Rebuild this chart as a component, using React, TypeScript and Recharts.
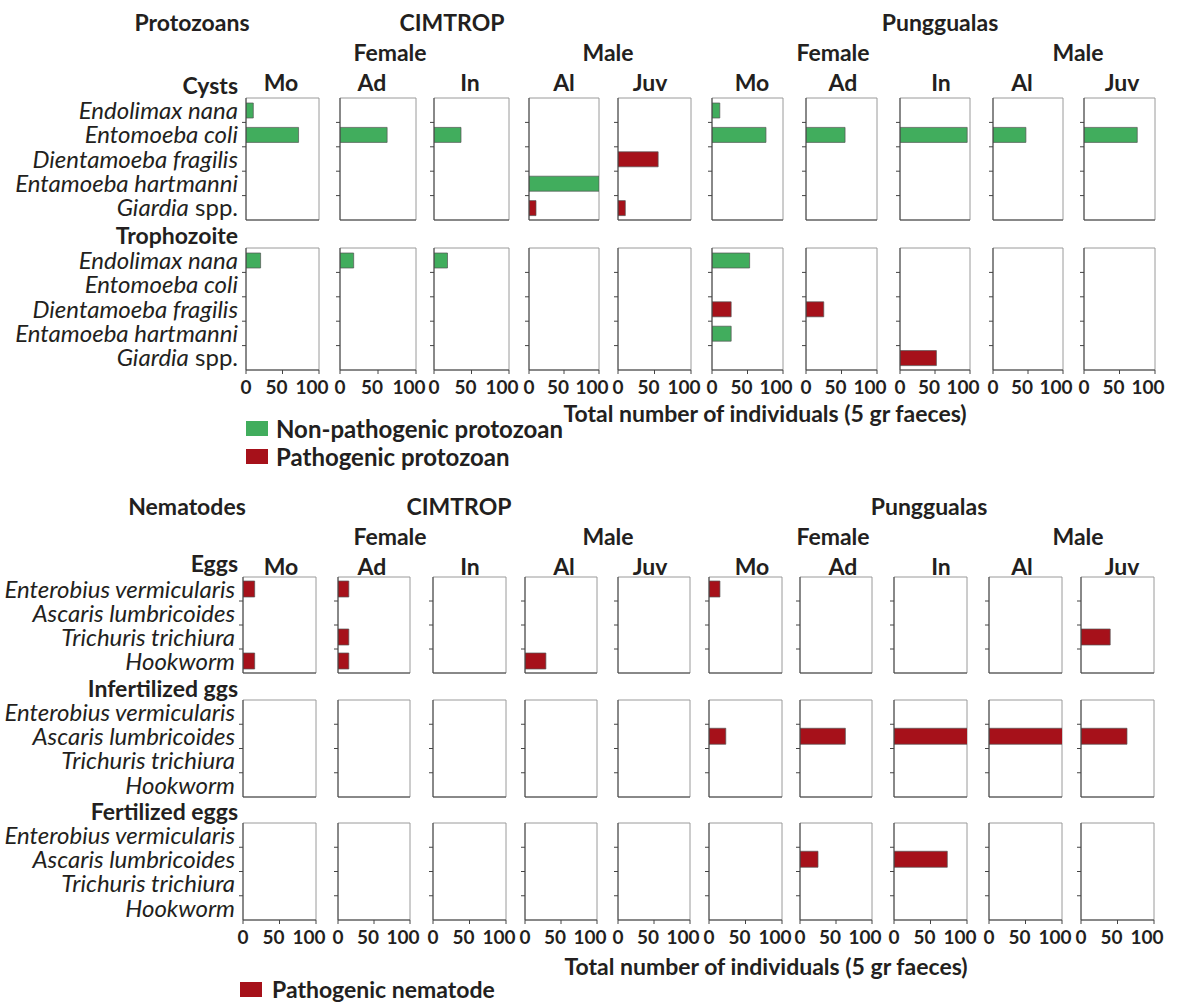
import React from 'react';
import { BarChart, Bar, XAxis, YAxis, CartesianGrid, Cell } from 'recharts';

const GREEN = '#41ad5d';
const RED = '#a6111a';
const INK = '#231f20';
const FONT = 'Lato, "Open Sans", sans-serif';

const sites = ['CIMTROP', 'Punggualas'];
const sexes = ['Female', 'Male'];
const groups = ['Mo', 'Ad', 'In', 'Al', 'Juv', 'Mo', 'Ad', 'In', 'Al', 'Juv'];
const xTicks = [0, 50, 100];

const protozoa = ['Endolimax nana', 'Entomoeba coli', 'Dientamoeba fragilis', 'Entamoeba hartmanni', 'Giardia spp.'];
const protozoaPathogenic = [false, false, true, false, true];
const nematodes = ['Enterobius vermicularis', 'Ascaris lumbricoides', 'Trichuris trichiura', 'Hookworm'];

// one row per column: CIMTROP Mo, Ad, In, Al, Juv, Punggualas Mo, Ad, In, Al, Juv
const cysts = [
  [10, 72, 0, 0, 0],
  [0, 62, 0, 0, 0],
  [0, 36, 0, 0, 0],
  [0, 0, 0, 100, 10],
  [0, 0, 55, 0, 10],
  [11, 76, 0, 0, 0],
  [0, 55, 0, 0, 0],
  [0, 96, 0, 0, 0],
  [0, 47, 0, 0, 0],
  [0, 75, 0, 0, 0],
];
const trophozoites = [
  [20, 0, 0, 0, 0],
  [18, 0, 0, 0, 0],
  [18, 0, 0, 0, 0],
  [0, 0, 0, 0, 0],
  [0, 0, 0, 0, 0],
  [53, 0, 27, 27, 0],
  [0, 0, 25, 0, 0],
  [0, 0, 0, 0, 52],
  [0, 0, 0, 0, 0],
  [0, 0, 0, 0, 0],
];
const eggs = [
  [16, 0, 0, 16],
  [15, 0, 15, 15],
  [0, 0, 0, 0],
  [0, 0, 0, 29],
  [0, 0, 0, 0],
  [15, 0, 0, 0],
  [0, 0, 0, 0],
  [0, 0, 0, 0],
  [0, 0, 0, 0],
  [0, 0, 40, 0],
];
const infertilizedEggs = [
  [0, 0, 0, 0],
  [0, 0, 0, 0],
  [0, 0, 0, 0],
  [0, 0, 0, 0],
  [0, 0, 0, 0],
  [0, 23, 0, 0],
  [0, 63, 0, 0],
  [0, 103, 0, 0],
  [0, 103, 0, 0],
  [0, 63, 0, 0],
];
const fertilizedEggs = [
  [0, 0, 0, 0],
  [0, 0, 0, 0],
  [0, 0, 0, 0],
  [0, 0, 0, 0],
  [0, 0, 0, 0],
  [0, 0, 0, 0],
  [0, 25, 0, 0],
  [0, 73, 0, 0],
  [0, 0, 0, 0],
  [0, 0, 0, 0],
];

// panel geometry (plot area, page pixels)
const topLefts = [246, 340, 434, 529, 618, 712, 806, 900, 993, 1084];
const topRights = [319, 416, 509, 599, 691, 783, 877, 970, 1063, 1155];
const botLefts = [243, 338, 433, 525, 618, 709, 800, 894, 989, 1081];
const botRights = [316, 410, 506, 597, 690, 782, 872, 967, 1062, 1154];

const XTick = (props: any) => {
  const { x, y, payload } = props;
  const shift = payload.value === 100 ? -7 : payload.value === 50 ? -6 : 0;
  return (
    <text x={x + shift} y={y} dy={18} textAnchor="middle" fill={INK} fontSize={19} fontWeight={700} fontFamily={FONT}>
      {payload.value}
    </text>
  );
};

const YTick = (props: any) => {
  const { x, y, payload, index, band, n, showLabel } = props;
  const name: string = payload.value;
  const isSpp = name.endsWith(' spp.');
  return (
    <g>
      {index < n - 1 && <line x1={x - 4} x2={x} y1={y + band / 2} y2={y + band / 2} stroke="#444" />}
      {showLabel && (
        <text x={x - 8} y={y} dy="0.36em" textAnchor="end" fill={INK} fontSize={24} fontFamily={FONT}>
          {isSpp ? (
            <>
              <tspan fontStyle="italic">{name.replace(' spp.', '')}</tspan>
              <tspan> spp.</tspan>
            </>
          ) : (
            <tspan fontStyle="italic">{name}</tspan>
          )}
        </text>
      )}
    </g>
  );
};

type PanelProps = {
  names: string[];
  values: number[];
  colors: string[];
  left: number;
  right: number;
  top: number;
  bottom: number;
  showLabels: boolean;
  showTickLabels: boolean;
  barSize: number;
};

const Panel = ({ names, values, colors, left, right, top, bottom, showLabels, showTickLabels, barSize }: PanelProps) => {
  const axisW = showLabels ? left : 8;
  const plotW = right - left;
  const plotH = bottom - top;
  const xAxisH = showTickLabels ? 36 : 6;
  const mTop = 2;
  const mRight = 18;
  const data = names.map((name, i) => ({ name, value: values[i] }));
  const band = plotH / names.length;
  return (
    <div style={{ position: 'absolute', left: left - axisW, top: top - mTop }}>
      <BarChart
        width={axisW + plotW + mRight}
        height={mTop + plotH + xAxisH}
        data={data}
        layout="vertical"
        margin={{ top: mTop, right: mRight, bottom: 0, left: 0 }}
      >
        <CartesianGrid
          stroke="#9a9a9a"
          horizontalPoints={[mTop, mTop + plotH]}
          verticalPoints={[axisW, axisW + plotW]}
        />
        <XAxis
          type="number"
          domain={[0, 100]}
          ticks={xTicks}
          interval={0}
          allowDataOverflow
          height={xAxisH}
          tickSize={4}
          tickMargin={2}
          stroke="#444"
          tick={showTickLabels ? <XTick /> : false}
        />
        <YAxis
          type="category"
          dataKey="name"
          width={axisW}
          interval={0}
          tickLine={false}
          tickSize={0}
          tickMargin={0}
          stroke="#444"
          tick={<YTick band={band} n={names.length} showLabel={showLabels} />}
        />
        <Bar dataKey="value" barSize={barSize} stroke="#555" strokeWidth={0.7} isAnimationActive={false}>
          {data.map((d, i) => (
            <Cell key={d.name} fill={colors[i]} />
          ))}
        </Bar>
      </BarChart>
    </div>
  );
};

const Text = ({ x, y, children, anchor = 'middle', weight = 700, size = 23, italic = false }: any) => (
  <div
    style={{
      position: 'absolute',
      left: x,
      top: y,
      transform: `translate(${anchor === 'end' ? '-100%' : anchor === 'start' ? '0' : '-50%'}, -50%)`,
      whiteSpace: 'nowrap',
      fontFamily: FONT,
      fontWeight: weight,
      fontStyle: italic ? 'italic' : 'normal',
      fontSize: size,
      lineHeight: 1,
      color: INK,
    }}
  >
    {children}
  </div>
);

const Swatch = ({ x, y, color }: any) => (
  <div style={{ position: 'absolute', left: x, top: y, width: 22, height: 15, background: color }} />
);

const Headers = ({ y0, title, siteX, femaleX, maleX, groupX }: any) => (
  <>
    <Text x={title.x} y={y0}>{title.text}</Text>
    <Text x={siteX[0]} y={y0}>{sites[0]}</Text>
    <Text x={siteX[1]} y={y0}>{sites[1]}</Text>
    <Text x={femaleX[0]} y={y0 + 30}>{sexes[0]}</Text>
    <Text x={maleX[0]} y={y0 + 30}>{sexes[1]}</Text>
    <Text x={femaleX[1]} y={y0 + 30}>{sexes[0]}</Text>
    <Text x={maleX[1]} y={y0 + 30}>{sexes[1]}</Text>
    {groups.map((g, i) => (
      <Text key={i} x={groupX[i]} y={y0 + 60}>{g}</Text>
    ))}
  </>
);

const groupCenters = [281, 372, 470, 564, 650, 752, 843, 941, 1022, 1122];

export default function App() {
  const protoColors = protozoaPathogenic.map((p) => (p ? RED : GREEN));
  const nemaColors = nematodes.map(() => RED);
  return (
    <div style={{ position: 'absolute', left: 0, top: 0, width: 1180, height: 1003, background: '#fff', overflow: 'hidden' }}>
      <Headers
        y0={22}
        title={{ x: 192, text: 'Protozoans' }}
        siteX={[452, 940]}
        femaleX={[390, 833]}
        maleX={[608, 1078]}
        groupX={groupCenters}
      />
      <Text x={238} y={85} anchor="end">Cysts</Text>
      <Text x={238} y={235} anchor="end">Trophozoite</Text>
      {cysts.map((vals, i) => (
        <Panel key={`c${i}`} names={protozoa} values={vals} colors={protoColors} left={topLefts[i]} right={topRights[i]}
          top={98} bottom={220} showLabels={i === 0} showTickLabels={false} barSize={15} />
      ))}
      {trophozoites.map((vals, i) => (
        <Panel key={`t${i}`} names={protozoa} values={vals} colors={protoColors} left={topLefts[i]} right={topRights[i]}
          top={248} bottom={370} showLabels={i === 0} showTickLabels barSize={15} />
      ))}
      <Text x={765} y={413}>Total number of individuals (5 gr faeces)</Text>
      <Swatch x={246} y={421} color={GREEN} />
      <Text x={276} y={429} anchor="start" size={24}>Non-pathogenic protozoan</Text>
      <Swatch x={246} y={449} color={RED} />
      <Text x={276} y={457} anchor="start" size={24}>Pathogenic protozoan</Text>

      <Headers
        y0={506}
        title={{ x: 187, text: 'Nematodes' }}
        siteX={[459, 929]}
        femaleX={[390, 833]}
        maleX={[608, 1078]}
        groupX={groupCenters}
      />
      <Text x={238} y={563} anchor="end">Eggs</Text>
      <Text x={238} y={688} anchor="end">Infertilized ggs</Text>
      <Text x={238} y={811} anchor="end">Fertilized eggs</Text>
      {eggs.map((vals, i) => (
        <Panel key={`e${i}`} names={nematodes} values={vals} colors={nemaColors} left={botLefts[i]} right={botRights[i]}
          top={577} bottom={673} showLabels={i === 0} showTickLabels={false} barSize={16} />
      ))}
      {infertilizedEggs.map((vals, i) => (
        <Panel key={`i${i}`} names={nematodes} values={vals} colors={nemaColors} left={botLefts[i]} right={botRights[i]}
          top={700} bottom={797} showLabels={i === 0} showTickLabels={false} barSize={16} />
      ))}
      {fertilizedEggs.map((vals, i) => (
        <Panel key={`f${i}`} names={nematodes} values={vals} colors={nemaColors} left={botLefts[i]} right={botRights[i]}
          top={823} bottom={920} showLabels={i === 0} showTickLabels barSize={16} />
      ))}
      <Text x={766} y={966}>Total number of individuals (5 gr faeces)</Text>
      <Swatch x={240} y={982} color={RED} />
      <Text x={272} y={989} anchor="start" size={23}>Pathogenic nematode</Text>
    </div>
  );
}
